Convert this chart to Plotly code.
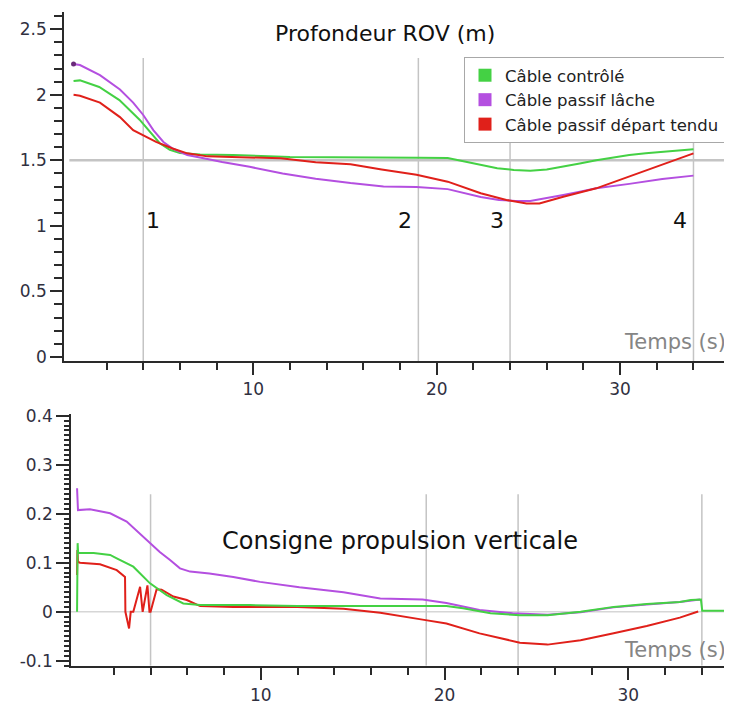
import plotly.graph_objects as go

# --- Profondeur ROV (m) ---
t_prof_ctrl = [0.2, 0.55, 1.6, 2.7, 3.8, 4.4, 4.9, 5.45, 6.0, 7.1, 8.9, 12.0, 15.0, 17.0, 19.0,
               20.6, 21.5, 22.4, 23.3, 24.2, 25.1, 26.0, 26.9, 27.8, 28.7, 29.6, 30.5, 31.4,
               32.3, 33.2, 33.8, 34.0]
prof_ctrl = [2.105, 2.11, 2.06, 1.96, 1.81, 1.71, 1.63, 1.58, 1.555, 1.545, 1.54, 1.525, 1.525,
             1.523, 1.52, 1.517, 1.49, 1.464, 1.44, 1.426, 1.42, 1.43, 1.45, 1.475, 1.50, 1.52,
             1.54, 1.553, 1.566, 1.575, 1.584, 1.585]

t_prof_lache = [0.2, 0.55, 1.64, 2.73, 3.45, 4.0, 4.55, 5.1, 5.6, 6.4, 7.5, 8.3, 9.8, 11.6, 13.4,
                15.3, 17.1, 18.9, 20.6, 21.5, 22.4, 23.4, 24.3, 25.1, 26.0, 26.9, 27.8, 28.7,
                30.5, 32.3, 34.0]
prof_lache = [2.235, 2.227, 2.15, 2.04, 1.94, 1.846, 1.73, 1.64, 1.59, 1.54, 1.51, 1.487, 1.45,
              1.40, 1.36, 1.326, 1.30, 1.297, 1.28, 1.25, 1.22, 1.197, 1.19, 1.19, 1.21, 1.235,
              1.26, 1.286, 1.32, 1.357, 1.383]

t_prof_tendu = [0.2, 0.55, 1.64, 2.73, 3.45, 4.0, 4.7, 5.6, 6.4, 7.5, 9.4, 11.5, 13.4, 15.3, 17.0,
                18.9, 20.6, 22.4, 23.8, 24.9, 25.6, 26.9, 28.7, 30.5, 32.3, 34.0]
prof_tendu = [2.0, 1.993, 1.94, 1.83, 1.73, 1.69, 1.64, 1.59, 1.553, 1.53, 1.525, 1.515, 1.485,
              1.47, 1.43, 1.39, 1.337, 1.248, 1.197, 1.17, 1.17, 1.222, 1.286, 1.375, 1.464, 1.553]

# --- Consigne propulsion verticale ---
t_cons_ctrl = [0.0, 0.03, 0.06, 0.9, 1.8, 2.16, 3.06, 3.97, 4.88, 5.78, 6.7, 9.4, 12.0, 16.5,
               20.1, 21.0, 22.5, 24.1, 25.6, 27.4, 29.2, 31.0, 32.8, 33.4, 33.95, 34.02, 35.6]
cons_ctrl = [0.0, 0.14, 0.12, 0.12, 0.116, 0.109, 0.092, 0.058, 0.034, 0.017, 0.0137, 0.0137,
             0.012, 0.0116, 0.0116, 0.007, -0.003, -0.007, -0.007, 0.0, 0.010, 0.0157, 0.020,
             0.024, 0.025, 0.002, 0.002]

t_cons_lache = [0.0, 0.05, 0.7, 1.8, 2.7, 3.4, 3.97, 4.5, 5.06, 5.6, 6.15, 7.2, 8.5, 9.96, 12.1,
                14.5, 16.5, 18.8, 20.1, 21.0, 21.9, 23.7, 25.6, 27.4, 29.2, 31.0, 32.8, 33.9]
cons_lache = [0.252, 0.2075, 0.209, 0.201, 0.184, 0.16, 0.14, 0.122, 0.1055, 0.0886, 0.082, 0.078,
              0.071, 0.061, 0.05, 0.04, 0.027, 0.025, 0.018, 0.011, 0.0035, -0.003, -0.006,
              -0.001, 0.009, 0.015, 0.02, 0.025]

t_cons_tendu = [0.0, 0.02, 0.05, 0.16, 1.25, 2.16, 2.61, 2.63, 2.83, 2.92, 3.06, 3.43, 3.57, 3.83,
                3.94, 4.0, 4.33, 4.6, 5.24, 5.97, 6.7, 8.5, 12.0, 14.5, 16.5, 18.8, 20.1, 21.9,
                23.7, 24.1, 25.6, 27.4, 29.2, 31.0, 32.8, 33.7, 33.8]
cons_tendu = [0.075, 0.126, 0.102, 0.1, 0.097, 0.085, 0.071, 0.0, -0.034, 0.0, 0.0, 0.051, 0.0,
              0.054, 0.0, 0.0, 0.046, 0.045, 0.031, 0.024, 0.0116, 0.010, 0.010, 0.006, -0.002,
              -0.016, -0.024, -0.044, -0.06, -0.063, -0.067, -0.058, -0.044, -0.029, -0.012,
              -0.0006, 0.0007]

noms = ['Câble contrôlé', 'Câble passif lâche', 'Câble passif départ tendu']
couleurs = ['#44d144', '#b44fe0', '#e0201a']

evenements_t = [4, 19, 24, 34]
evenements_lbl = ['1', '2', '3', '4']
consigne_prof = 1.5

# la page a une marge de 8 px : la figure fait 724x696
OFF = 8
W, H = 732 - OFF, 704 - OFF


def px(x):
    return (x - OFF) / W


def py(y):
    return 1 - (y - OFF) / H


tick_col = '#30303f'
gris = '#c4c4c4'
noir_axe = '#2a2a2a'

fig = go.Figure()

# courbes du haut
for t, v, c in [(t_prof_ctrl, prof_ctrl, couleurs[0]),
                (t_prof_lache, prof_lache, couleurs[1]),
                (t_prof_tendu, prof_tendu, couleurs[2])]:
    fig.add_trace(go.Scatter(x=t, y=v, mode='lines', line=dict(color=c, width=2),
                             showlegend=False, xaxis='x', yaxis='y'))
# point de depart (passif lache)
fig.add_trace(go.Scatter(x=t_prof_lache[:1], y=prof_lache[:1], mode='markers',
                         marker=dict(color='#6a2a7a', size=5), showlegend=False,
                         xaxis='x', yaxis='y'))

# courbes du bas (le vert par dessus)
for t, v, c in [(t_cons_lache, cons_lache, couleurs[1]),
                (t_cons_tendu, cons_tendu, couleurs[2]),
                (t_cons_ctrl, cons_ctrl, couleurs[0])]:
    fig.add_trace(go.Scatter(x=t, y=v, mode='lines', line=dict(color=c, width=2),
                             showlegend=False, xaxis='x2', yaxis='y2'))

# legende
for nom, c in zip(noms, couleurs):
    fig.add_trace(go.Scatter(x=[None], y=[None], mode='markers', name=nom,
                             marker=dict(color=c, size=13, symbol='square'),
                             xaxis='x', yaxis='y'))

# lignes de repere
shapes = []
for te in evenements_t:
    shapes.append(dict(type='line', xref='x', yref='y', x0=te, x1=te, y0=-0.032, y1=2.28,
                       line=dict(color=gris, width=1.5), layer='below'))
    shapes.append(dict(type='line', xref='x2', yref='y2', x0=te, x1=te, y0=-0.11, y1=0.24,
                       line=dict(color=gris, width=1.5), layer='below'))
shapes.append(dict(type='line', xref='x domain', yref='y', x0=0.008, x1=1,
                   y0=consigne_prof, y1=consigne_prof, line=dict(color=gris, width=2.5),
                   layer='below'))
shapes.append(dict(type='line', xref='x2 domain', yref='y2', x0=0.0, x1=1,
                   y0=0, y1=0, line=dict(color='#d6d6d6', width=1.5), layer='below'))

annotations = []
for te, lbl in zip(evenements_t, evenements_lbl):
    if lbl == '1':
        annotations.append(dict(x=te, y=1.044, xref='x', yref='y', text=lbl, showarrow=False,
                                xanchor='left', yanchor='middle', xshift=1,
                                font=dict(size=22, color='#111')))
    else:
        annotations.append(dict(x=te, y=1.044, xref='x', yref='y', text=lbl, showarrow=False,
                                xanchor='right', yanchor='middle', xshift=-4,
                                font=dict(size=22, color='#111')))

annotations += [
    dict(x=px(385), y=py(33), xref='paper', yref='paper', text='Profondeur ROV (m)',
         showarrow=False, yanchor='middle', font=dict(size=22, color='#111')),
    dict(x=px(400), y=py(541), xref='paper', yref='paper', yanchor='middle',
         text='Consigne propulsion verticale', showarrow=False, font=dict(size=24, color='#111')),
    dict(x=px(728), y=py(342), xref='paper', yref='paper', text='Temps (s)', yanchor='middle',
         showarrow=False, xanchor='right', font=dict(size=21, color='#858585')),
    dict(x=px(728), y=py(650), xref='paper', yref='paper', text='Temps (s)', yanchor='middle',
         showarrow=False, xanchor='right', font=dict(size=21, color='#858585')),
]

axe = dict(showgrid=False, zeroline=False, showline=True, linecolor=noir_axe, linewidth=1.5,
           ticks='outside', tickcolor=noir_axe, tickwidth=1.5,
           tickfont=dict(size=17, color=tick_col), automargin=False)

xt = [10, 20, 30]
xt_minor = [v for v in range(2, 37, 2) if v % 10]

fig.update_layout(
    width=W, height=H,
    margin=dict(l=0, r=0, t=0, b=0),
    paper_bgcolor='white', plot_bgcolor='white',
    font=dict(family='DejaVu Sans', color='#111'),
    xaxis=dict(axe, domain=[px(64), 1], range=[-0.32, 36.1], anchor='y',
               tickmode='array', tickvals=xt, ticktext=[str(v) for v in xt], ticklen=12,
               minor=dict(tickmode='array', tickvals=xt_minor, ticklen=7, ticks='outside',
                          tickcolor=noir_axe, tickwidth=1.5)),
    yaxis=dict(axe, domain=[py(361), py(12)], range=[-0.032, 2.632], anchor='x',
               tickmode='array', tickvals=[0, 0.5, 1, 1.5, 2, 2.5],
               ticktext=['0', '0.5', '1', '1.5', '2', '2.5'], ticklen=12,
               minor=dict(dtick=0.1, tick0=0, ticklen=8, ticks='outside',
                          tickcolor=noir_axe, tickwidth=1.5)),
    xaxis2=dict(axe, domain=[px(71), 1], range=[-0.33, 35.64], anchor='y2',
                tickmode='array', tickvals=xt, ticktext=[str(v) for v in xt], ticklen=13,
                minor=dict(tickmode='array', tickvals=xt_minor, ticklen=8, ticks='outside',
                           tickcolor=noir_axe, tickwidth=1.5)),
    yaxis2=dict(axe, domain=[py(665.7), py(414)], range=[-0.11, 0.4035], anchor='x2',
                tickmode='array', tickvals=[-0.1, 0, 0.1, 0.2, 0.3, 0.4],
                ticktext=['-0.1', '0', '0.1', '0.2', '0.3', '0.4'], ticklen=13,
                minor=dict(dtick=0.01, tick0=0, ticklen=5, ticks='outside',
                           tickcolor=noir_axe, tickwidth=1.5)),
    legend=dict(x=px(464), y=py(57), xanchor='left', yanchor='top',
                bgcolor='white', bordercolor='#a8a8a8', borderwidth=1,
                font=dict(size=16.5, color='#222'), tracegroupgap=0),
    shapes=shapes,
    annotations=annotations,
)

fig.write_html('out.html')
